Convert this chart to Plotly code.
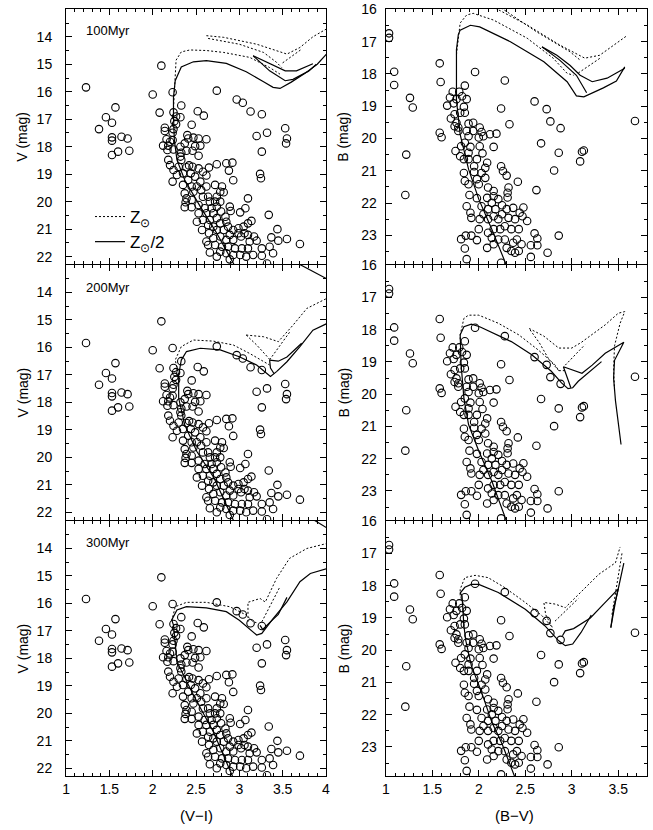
import plotly.graph_objects as go

# ---------------- observed stars: V vs (V-I) ----------------
VI_color = [1.23, 1.38, 1.46, 1.57, 1.53, 1.53, 1.53, 1.64, 1.71, 1.53, 1.60, 1.73,
            2.10, 2.00, 2.74, 2.97, 3.04, 3.13, 3.26, 3.20, 3.32, 3.26, 3.53, 3.55, 3.54,
            3.24, 3.25, 2.93, 3.10, 3.07, 3.34, 3.01, 3.44, 3.55, 3.70, 3.37, 3.45, 3.32,
            2.08, 2.33, 2.23, 2.52, 2.59, 2.45, 2.85, 2.92, 2.88, 2.65, 2.74,
            2.24, 2.27, 2.32, 2.25, 2.14, 2.14, 2.24, 2.27, 2.23, 2.12, 2.18, 2.16, 2.20, 2.23,
            2.17, 2.24, 2.32, 2.33, 2.32, 2.37, 2.41, 2.40, 2.47, 2.53, 2.62, 2.49, 2.46, 2.39,
            2.55, 2.53, 2.33, 2.18, 2.20, 2.24, 2.30, 2.28, 2.23, 2.35, 2.39, 2.42, 2.46, 2.53,
            2.44, 2.49, 2.41, 2.55, 2.58, 2.62, 2.45, 2.51, 2.35, 2.56, 2.62, 2.72, 2.80, 2.78,
            2.82, 2.74, 2.47, 2.37, 2.39, 2.45, 2.38, 2.37, 2.45, 2.53, 2.58, 2.64, 2.66, 2.60,
            2.68, 2.72, 2.78, 2.74, 2.79, 2.89, 2.90, 2.70, 2.62, 2.53, 2.51, 2.58, 2.66, 2.74,
            2.84, 2.85, 2.78, 2.70, 2.64, 2.57, 2.65, 2.74, 2.82, 2.87, 2.93, 2.99, 3.05, 3.10,
            3.14, 2.99, 3.06, 3.02, 3.10, 3.17, 3.12, 3.20, 2.70, 2.78, 2.85, 2.93, 2.89, 2.64,
            2.72, 2.80, 2.87, 2.95, 3.03, 3.10, 2.78, 2.85, 2.93, 3.01, 3.08, 3.16, 3.26, 3.35,
            3.39, 3.26, 2.89, 2.74, 2.66, 2.62]
V_mag = [15.84, 17.36, 16.93, 16.57, 17.13, 17.66, 17.78, 17.64, 17.70, 18.30, 18.18, 18.15,
         15.05, 16.10, 15.96, 16.28, 16.40, 16.72, 16.82, 17.61, 17.49, 18.18, 17.33, 17.70, 17.88,
         18.99, 19.15, 19.22, 19.88, 20.24, 20.48, 20.39, 21.00, 21.36, 21.54, 21.30, 21.42, 22.25,
         16.76, 16.50, 16.02, 16.71, 16.87, 17.20, 18.60, 18.58, 18.87, 18.76, 18.64,
         16.75, 16.90, 16.93, 17.07, 17.31, 17.43, 17.36, 17.18, 17.49, 17.96, 17.96, 17.73, 17.82, 17.76,
         18.12, 18.10, 18.00, 18.22, 18.36, 17.88, 17.70, 17.58, 17.67, 17.70, 17.73, 17.98, 18.15, 18.15,
         17.96, 18.33, 18.48, 18.48, 18.67, 18.85, 18.73, 19.03, 19.27, 18.97, 18.75, 18.68, 18.73, 18.79,
         18.97, 19.09, 19.21, 19.27, 18.91, 19.05, 19.45, 19.45, 19.39, 19.58, 19.45, 19.39, 19.45, 19.64,
         19.66, 19.82, 19.64, 19.70, 19.88, 19.94, 20.02, 20.20, 20.20, 20.12, 19.82, 19.82, 20.00, 20.24,
         20.24, 20.00, 20.00, 20.18, 20.36, 20.18, 20.34, 20.42, 20.42, 20.42, 20.73, 20.67, 20.67, 20.60,
         20.55, 20.73, 20.79, 20.91, 20.85, 21.03, 21.15, 21.03, 21.03, 20.91, 21.03, 20.97, 20.91, 20.79,
         20.70, 21.15, 21.15, 21.27, 21.21, 21.27, 21.45, 21.42, 21.33, 21.27, 21.39, 21.39, 21.21, 21.58,
         21.58, 21.64, 21.64, 21.70, 21.70, 21.70, 21.82, 21.88, 21.94, 21.94, 22.00, 21.94, 21.70, 21.64,
         21.88, 21.97, 22.10, 22.00, 21.85, 21.45]

# ---------------- observed stars: B vs (B-V) ----------------
BV_color = [1.035, 1.035, 1.09, 1.09, 1.26, 1.29, 1.22, 1.21, 1.58, 1.59, 1.58, 1.60,
            1.96, 2.28, 2.24, 2.33, 2.60, 2.73, 2.77, 2.88, 2.67, 2.86, 3.09, 3.13, 3.11,
            2.81, 2.62, 2.42, 2.86, 3.68, 2.74, 2.56, 2.24, 1.87, 1.85, 1.81, 1.86, 1.92, 1.98,
            2.48, 2.47, 2.52, 2.60, 2.63, 2.63, 2.56,
            1.72, 1.79, 1.69, 1.76, 1.82, 1.87, 1.66, 1.73, 1.84, 1.85, 1.80, 1.85, 1.70, 1.74,
            1.76, 1.74, 1.78, 1.89, 1.94, 1.78, 1.87, 1.89, 1.94, 2.01, 2.03, 2.05, 2.00, 2.12,
            2.19, 2.16, 2.01, 2.04, 1.75, 1.81, 1.85, 1.91, 1.89, 1.80, 1.84, 1.89, 1.98, 2.09,
            1.95, 1.95, 2.07, 2.03, 1.84, 1.85, 1.98, 1.89, 2.00, 2.07, 2.10, 2.16, 2.16, 2.24,
            2.26, 2.30, 2.32, 2.31, 2.31, 1.90, 1.98, 2.09, 2.21, 2.14, 1.87, 1.91, 1.92, 2.03,
            2.10, 2.18, 2.25, 2.30, 2.37, 2.44, 2.05, 2.01, 2.00, 2.10, 2.16, 2.21, 2.25, 2.32,
            2.39, 2.43, 2.35, 2.28, 2.23, 2.16, 2.10, 2.14, 2.16, 2.21, 2.28, 2.30, 2.37, 2.39,
            2.35, 2.43, 2.46, 2.41, 2.09]
B_mag = [16.74, 16.88, 17.93, 18.34, 18.74, 19.04, 20.50, 21.75, 17.67, 18.25, 19.82, 19.96,
         17.94, 18.20, 19.07, 19.56, 18.85, 19.09, 19.47, 19.68, 20.15, 20.44, 20.71, 20.37, 20.41,
         20.99, 21.60, 21.34, 23.01, 19.46, 23.54, 23.67, 23.85, 23.74, 23.41, 23.12, 23.01, 23.01, 23.15,
         22.14, 22.41, 22.56, 22.94, 23.10, 23.31, 23.31,
         18.55, 18.55, 18.73, 18.78, 18.69, 18.78, 18.98, 18.91, 19.02, 18.36, 19.20, 19.20, 19.38, 19.25,
         19.51, 19.62, 19.66, 19.54, 19.51, 19.77, 19.77, 19.93, 19.77, 19.66, 19.80, 19.93, 19.97, 19.87,
         19.85, 20.26, 20.24, 20.46, 20.39, 20.24, 20.13, 20.26, 20.44, 20.55, 20.64, 20.64, 20.64, 20.75,
         20.86, 21.04, 20.91, 21.07, 21.07, 21.32, 21.26, 21.42, 21.42, 21.22, 21.52, 21.63, 21.79, 20.86,
         21.01, 21.15, 21.52, 21.68, 21.83, 21.75, 21.85, 21.84, 21.88, 21.99, 22.10, 22.30, 22.46, 22.10,
         22.19, 22.19, 22.07, 22.19, 22.15, 22.30, 22.35, 22.50, 22.81, 22.50, 22.41, 22.50, 22.35, 22.46,
         22.50, 22.81, 22.81, 22.72, 22.81, 22.81, 22.92, 23.08, 23.28, 23.13, 23.13, 23.39, 23.23, 23.54,
         23.49, 23.49, 23.28, 23.13, 23.39]

# ---------------- isochrones (None separates branches) ----------------
# 100 Myr, V vs (V-I)
iso100_vi_half_x = [2.95, 2.74, 2.55, 2.37, 2.28, 2.25, 2.24, 2.24, 2.26, 2.33, 2.47, 2.62, 2.85, 3.08, 3.28, 3.39, 3.47, 3.60, 3.75, 3.90, 4.02,
                    None, 3.16, 3.39, 3.53, 3.66, 3.85, None, 3.16, 3.35, 3.53, 3.62, 3.80, 3.89]
iso100_vi_half_y = [22.35, 21.15, 20.18, 19.21, 18.48, 17.76, 16.90, 16.20, 15.60, 15.10, 14.91, 14.87, 14.97, 15.27, 15.64, 15.84, 15.88, 15.65, 15.35, 15.00, 14.58,
                    None, 14.69, 15.05, 15.24, 15.24, 14.98, None, 14.69, 15.24, 15.60, 15.55, 15.25, 15.00]
iso100_vi_sun_x = [2.24, 2.25, 2.27, 2.33, 2.43, 2.62, 2.82, 3.12, 3.35, 3.47,
                   None, 2.62, 2.82, 3.20, 3.43, 3.55, 3.70, 3.85, 4.02,
                   None, 2.64, 3.00, 3.28, 3.43, 3.49, None, 3.50, 3.72]
iso100_vi_sun_y = [16.60, 15.82, 14.85, 14.55, 14.48, 14.50, 14.57, 14.75, 15.12, 15.36,
                   None, 13.96, 14.02, 14.27, 14.51, 14.63, 14.39, 14.00, 13.69,
                   None, 14.06, 14.27, 14.57, 14.93, 15.12, None, 14.95, 14.45]
# 200 Myr, V vs (V-I)
iso200_vi_half_x = [2.94, 2.71, 2.51, 2.37, 2.30, 2.30, 2.32, 2.33, 2.39, 2.55, 2.78, 3.00, 3.20, 3.32, 3.36, 3.43, 3.55, 3.70, 3.85, 4.02,
                    None, 3.35, 3.36, 3.40, None, 3.35, 3.45, 3.55, 3.72, None, 3.68, 4.02]
iso200_vi_half_y = [22.35, 20.76, 19.79, 18.82, 17.85, 17.00, 16.64, 16.46, 16.15, 16.03, 16.09, 16.34, 16.64, 16.94, 17.06, 16.88, 16.52, 15.97, 15.37, 15.12,
                    None, 16.46, 16.75, 16.95, None, 16.46, 16.50, 16.35, 15.85, None, 12.95, 13.52]
iso200_vi_sun_x = [2.30, 2.26, 2.33, 2.47, 2.70, 2.93, 3.12, 3.28, 3.35,
                   None, 3.08, 3.28, 3.45, 3.62, 3.78, 4.02, None, 3.08, 3.20, 3.35, None, 3.35, 3.45, 3.58]
iso200_vi_sun_y = [17.00, 16.46, 15.97, 15.73, 15.77, 15.91, 16.22, 16.52, 16.64,
                   None, 15.55, 15.61, 15.79, 15.19, 14.58, 14.20, None, 15.55, 15.91, 16.43, None, 16.45, 16.00, 15.45]
# 300 Myr, V vs (V-I)
iso300_vi_half_x = [2.93, 2.70, 2.47, 2.28, 2.24, 2.22, 2.28, 2.39, 2.62, 2.85, 3.00, 3.14, 3.20, 3.26, 3.39, 3.55, 3.70, 3.82, 4.02,
                    None, 3.24, 3.27, 3.35, 3.45, 3.55, None, 3.87, 4.02]
iso300_vi_half_y = [22.35, 20.67, 19.33, 18.12, 16.79, 16.60, 16.24, 16.12, 16.16, 16.30, 16.61, 16.97, 17.15, 17.09, 16.55, 15.94, 15.21, 14.91, 14.72,
                    None, 16.80, 16.95, 16.70, 16.40, 15.78, None, 12.98, 13.27]
iso300_vi_sun_x = [2.22, 2.26, 2.39, 2.62, 2.89, 3.08, 3.16, 3.20,
                   None, 3.10, 3.10, 3.24, 3.30, 3.43, 3.58, 3.78, 4.02, None, 3.26, 3.47]
iso300_vi_sun_y = [16.64, 16.12, 15.96, 15.96, 16.12, 16.42, 16.67, 16.70,
                   None, 16.67, 15.96, 15.82, 15.95, 15.09, 14.36, 14.00, 13.81, None, 16.67, 15.39]
# 100 Myr, B vs (B-V)
iso100_bv_half_x = [2.30, 2.14, 2.00, 1.89, 1.80, 1.76, 1.76, 1.78, 1.80, 1.91, 2.01, 2.34, 2.70, 2.95, 3.05, 3.13, 3.34, 3.48, 3.57,
                    None, 2.68, 2.84, 2.98, 3.09, 3.22, 3.38, 3.57, None, 2.68, 2.87, 3.05, 3.16]
iso100_bv_half_y = [23.95, 22.81, 21.88, 20.95, 19.88, 18.81, 17.24, 16.78, 16.64, 16.49, 16.54, 17.00, 17.62, 18.24, 18.68, 18.71, 18.43, 18.22, 17.78,
                    None, 17.16, 17.42, 17.73, 18.04, 18.24, 18.13, 17.82, None, 17.16, 17.57, 18.04, 18.58]
iso100_bv_sun_x = [1.76, 1.78, 1.80, 1.87, 1.94, 2.16, 2.52, 2.80, 2.95, 3.02,
                   None, 2.14, 2.52, 2.87, 3.14, 3.30, 3.59, None, 2.24, 2.62, 2.98, 3.09, None, 3.07, 3.32]
iso100_bv_sun_y = [17.40, 16.80, 16.42, 16.17, 16.12, 16.33, 16.89, 17.51, 17.98, 18.04,
                   None, 15.90, 16.48, 17.10, 17.51, 17.42, 16.82, None, 15.95, 16.69, 17.31, 17.57, None, 17.97, 17.48]
# 200 Myr, B vs (B-V)
iso200_bv_half_x = [2.30, 2.14, 2.00, 1.89, 1.84, 1.81, 1.80, 1.84, 1.92, 2.01, 2.35, 2.57, 2.78, 2.89, 2.96, 3.01, 3.07, 3.22, 3.32,
                    None, 2.99, 2.91, 3.11, 3.22, 3.36, 3.56, 3.46, 3.45, 3.47, 3.50, 3.53]
iso200_bv_half_y = [23.95, 22.69, 21.76, 20.94, 20.12, 19.09, 18.16, 17.91, 17.83, 17.91, 18.37, 18.78, 19.29, 19.65, 19.83, 19.80, 19.60, 19.24, 18.99,
                    None, 19.80, 19.15, 19.35, 19.10, 18.73, 18.39, 18.95, 19.50, 20.20, 20.85, 21.56]
iso200_bv_sun_x = [1.80, 1.80, 1.84, 1.89, 2.00, 2.21, 2.43, 2.64, 2.82, 2.86, 2.93,
                   None, 2.86, 2.75, 2.65, 2.54, 2.70, 2.86, 3.00, 3.10, 3.36, 3.50, 3.57, 3.52, 3.46, 3.45, 3.46,
                   None, 2.93, 3.14]
iso200_bv_sun_y = [18.30, 18.16, 17.65, 17.55, 17.55, 17.80, 18.16, 18.63, 19.09, 19.27, 19.27,
                   None, 19.27, 18.90, 18.40, 17.96, 18.20, 18.57, 18.57, 18.40, 17.85, 17.49, 17.44, 17.80, 18.50, 19.20, 19.90,
                   None, 19.10, 18.47]
# 300 Myr, B vs (B-V)
iso300_bv_half_x = [2.39, 2.25, 2.14, 2.03, 1.92, 1.86, 1.84, 1.82, 1.80, 1.85, 1.92, 2.00, 2.21, 2.50, 2.71, 2.86, 2.93, 3.01, 3.10, 3.21,
                    None, 2.90, 2.93, 3.02, 3.20, 3.35, 3.50, 3.56, 3.47, 3.42, None, 3.50, 3.45, 3.42]
iso300_bv_half_y = [23.95, 22.90, 22.23, 21.30, 20.48, 19.70, 19.24, 18.31, 18.23, 18.05, 17.96, 17.96, 18.21, 18.73, 19.24, 19.71, 19.86, 19.81, 19.45, 18.91,
                    None, 19.55, 19.40, 19.33, 19.00, 18.55, 18.10, 17.30, 18.50, 19.30, None, 18.10, 18.70, 19.30]
iso300_bv_sun_x = [1.80, 1.80, 1.85, 1.96, 2.10, 2.28, 2.50, 2.68, 2.79,
                   None, 2.79, 2.72, 2.70, 2.82, 2.93, 3.07, 3.29, 3.47, 3.52,
                   None, 3.54, 3.48, 3.43, None, 2.82, 3.07]
iso300_bv_sun_y = [18.30, 18.11, 17.75, 17.68, 17.75, 18.06, 18.52, 18.93, 19.29,
                   None, 19.29, 18.90, 18.52, 18.57, 18.68, 18.27, 17.65, 17.29, 16.80,
                   None, 17.00, 18.00, 18.94, None, 19.10, 18.40]

age_labels = ["100Myr", "200Myr", "300Myr"]
vi_ticks = [1, 1.5, 2, 2.5, 3, 3.5, 4]
vi_ticktext = ["1", "1.5", "2", "2.5", "3", "3.5", "4"]
bv_ticks = [1, 1.5, 2, 2.5, 3, 3.5]
bv_ticktext = ["1", "1.5", "2", "2.5", "3", "3.5"]
v_ticks = [14, 15, 16, 17, 18, 19, 20, 21, 22]
b_ticks = [16, 17, 18, 19, 20, 21, 22, 23]

W, H = 653, 830
FONT = "Liberation Sans, Arial, Helvetica, sans-serif"

left_dom = [66 / W, 326 / W]
right_dom = [385.7 / W, 646.7 / W]
row_px = [(9.3, 264.3), (265.0, 520.0), (521.0, 776.0)]
row_dom = [[1 - b / H, 1 - t / H] for (t, b) in row_px]

vi_iso = [(iso100_vi_sun_x, iso100_vi_sun_y, iso100_vi_half_x, iso100_vi_half_y),
          (iso200_vi_sun_x, iso200_vi_sun_y, iso200_vi_half_x, iso200_vi_half_y),
          (iso300_vi_sun_x, iso300_vi_sun_y, iso300_vi_half_x, iso300_vi_half_y)]
bv_iso = [(iso100_bv_sun_x, iso100_bv_sun_y, iso100_bv_half_x, iso100_bv_half_y),
          (iso200_bv_sun_x, iso200_bv_sun_y, iso200_bv_half_x, iso200_bv_half_y),
          (iso300_bv_sun_x, iso300_bv_sun_y, iso300_bv_half_x, iso300_bv_half_y)]

fig = go.Figure()
marker = dict(symbol="circle-open", size=7.5, color="black", line=dict(width=1.1, color="black"))

layout_axes = {}
tick_font = dict(family=FONT, size=14, color="black")
common = dict(showline=True, linecolor="black", linewidth=1, mirror="ticks", ticks="inside",
              ticklen=6, tickwidth=1, tickcolor="black", showgrid=False, zeroline=False,
              tickfont=tick_font, automargin=False)

for r in range(3):
    for c in range(2):
        n = r * 2 + c + 1
        xa = "x" if n == 1 else f"x{n}"
        ya = "y" if n == 1 else f"y{n}"
        if c == 0:
            xs, ys = VI_color, V_mag
            iso = vi_iso[r]
        else:
            xs, ys = BV_color, B_mag
            iso = bv_iso[r]
        fig.add_trace(go.Scatter(x=xs, y=ys, mode="markers", marker=marker,
                                 xaxis=xa, yaxis=ya, showlegend=False, hoverinfo="skip"))
        fig.add_trace(go.Scatter(x=iso[0], y=iso[1], mode="lines",
                                 line=dict(color="black", width=1, dash="2px,2px"),
                                 xaxis=xa, yaxis=ya, name="Z<sub>⊙</sub>",
                                 showlegend=(n == 1), connectgaps=False))
        fig.add_trace(go.Scatter(x=iso[2], y=iso[3], mode="lines",
                                 line=dict(color="black", width=1.2),
                                 xaxis=xa, yaxis=ya, name="Z<sub>⊙</sub>/2",
                                 showlegend=(n == 1), connectgaps=False))

        xkey = "xaxis" if n == 1 else f"xaxis{n}"
        ykey = "yaxis" if n == 1 else f"yaxis{n}"
        if c == 0:
            layout_axes[xkey] = dict(common, domain=left_dom, range=[0.999, 4.001], anchor=ya,
                                     tickmode="array", tickvals=vi_ticks, ticktext=vi_ticktext,
                                     showticklabels=(r == 2),
                                     minor=dict(tickmode="linear", tick0=1, dtick=0.1, ticks="inside",
                                                ticklen=3, tickcolor="black", tickwidth=1))
            layout_axes[ykey] = dict(common, domain=row_dom[r], range=[22.28, 13.0], anchor=xa,
                                     tickmode="array", tickvals=v_ticks,
                                     ticklabelstandoff=10,
                                     minor=dict(tickmode="linear", tick0=13, dtick=0.5, ticks="inside",
                                                ticklen=3, tickcolor="black", tickwidth=1))
        else:
            layout_axes[xkey] = dict(common, domain=right_dom, range=[0.999, 3.806], anchor=ya,
                                     tickmode="array", tickvals=bv_ticks, ticktext=bv_ticktext,
                                     showticklabels=(r == 2),
                                     minor=dict(tickmode="linear", tick0=1, dtick=0.1, ticks="inside",
                                                ticklen=3, tickcolor="black", tickwidth=1))
            layout_axes[ykey] = dict(common, domain=row_dom[r], range=[23.9, 15.995], anchor=xa,
                                     tickmode="array", tickvals=b_ticks,
                                     ticklabelstandoff=5,
                                     minor=dict(tickmode="linear", tick0=16, dtick=0.5, ticks="inside",
                                                ticklen=3, tickcolor="black", tickwidth=1))

annotations = []
age_y_px = [30, 287, 542]
for r in range(3):
    annotations.append(dict(text=age_labels[r], x=84 / W, y=1 - age_y_px[r] / H, xref="paper", yref="paper",
                            xanchor="left", yanchor="middle", showarrow=False,
                            font=dict(family=FONT, size=13, color="black")))
    annotations.append(dict(text="V (mag)", x=22 / W, y=1 - (row_px[r][0] + row_px[r][1]) / 2 / H,
                            xref="paper", yref="paper", textangle=-90, showarrow=False,
                            xanchor="center", yanchor="middle",
                            font=dict(family=FONT, size=14, color="black")))
    annotations.append(dict(text="B (mag)", x=343 / W, y=1 - (row_px[r][0] + row_px[r][1]) / 2 / H,
                            xref="paper", yref="paper", textangle=-90, showarrow=False,
                            xanchor="center", yanchor="middle",
                            font=dict(family=FONT, size=14, color="black")))
annotations.append(dict(text="(V−I)", x=196 / W, y=1 - 815 / H, xref="paper", yref="paper",
                        showarrow=False, xanchor="center", yanchor="middle",
                        font=dict(family=FONT, size=15, color="black")))
annotations.append(dict(text="(B−V)", x=514 / W, y=1 - 815 / H, xref="paper", yref="paper",
                        showarrow=False, xanchor="center", yanchor="middle",
                        font=dict(family=FONT, size=15, color="black")))

fig.update_layout(
    width=W, height=H,
    margin=dict(l=0, r=0, t=0, b=0, autoexpand=False),
    paper_bgcolor="white", plot_bgcolor="white",
    showlegend=True,
    legend=dict(x=90 / W, y=1 - 199 / H, xanchor="left", yanchor="top",
                bgcolor="rgba(0,0,0,0)", font=dict(family=FONT, size=17, color="black"),
                tracegroupgap=0, itemwidth=30),
    annotations=annotations,
    **layout_axes,
)

fig.write_html("out.html",
               config={"displayModeBar": False},
               post_script="document.body.style.margin='0';document.body.style.padding='0';"
                           "document.body.style.overflow='hidden';")
